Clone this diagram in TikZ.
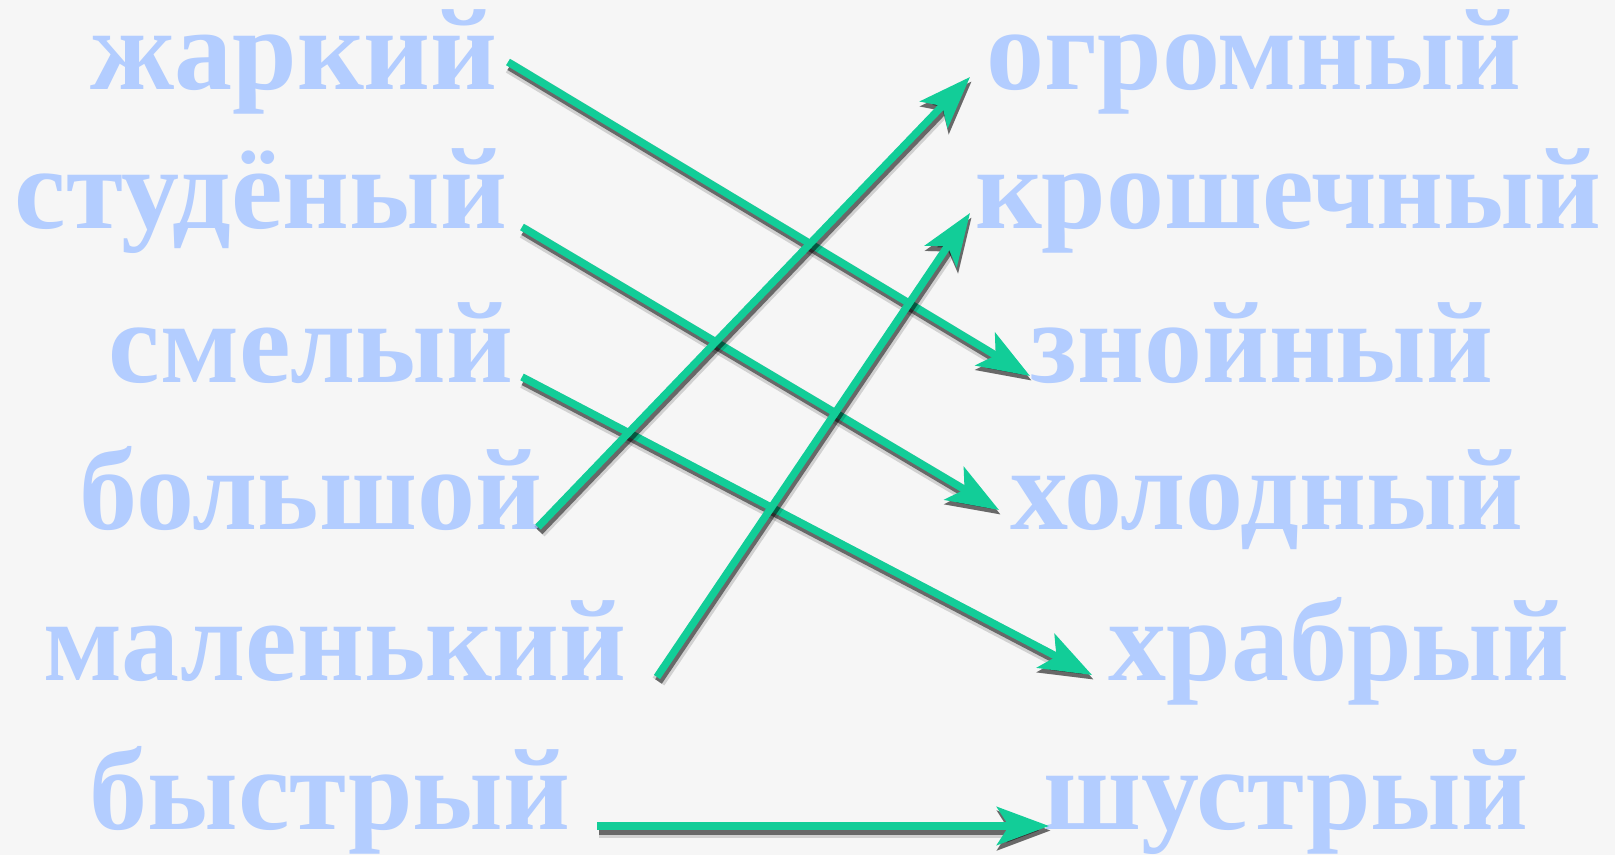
\documentclass[tikz,border=0pt]{standalone}
\usepackage{fontspec}
\setmainfont{Liberation Serif}
\usetikzlibrary{arrows.meta}
\definecolor{wordcol}{RGB}{179,205,255}
\definecolor{arrcol}{RGB}{18,205,152}
\definecolor{bgcol}{RGB}{246,246,246}

\begin{document}
\begin{tikzpicture}[x=0.01cm, y=-0.01cm,
  word/.style={anchor=base, inner sep=0pt, text=wordcol,
               font=\fontsize{33}{34}\selectfont\bfseries},
  link/.style={draw=arrcol, line width=0.075cm,
               -{Stealth[length=0.52cm, width=0.38cm, inset=0.12cm]}},
  linkshade/.style={draw=black,
               transform canvas={shift={(0.015cm,-0.045cm)}},
               -{Stealth[length=0.53cm, width=0.39cm, inset=0.12cm]}}
]
  % Background
  \fill[bgcol] (0,0) rectangle (1615,855);
  \useasboundingbox (0,0) rectangle (1615,855);

  % Left column
  \node[word] (zharkij)  at (294,90)  {жаркий};
  \node[word] (studenyj) at (261,229) {студёный};
  \node[word] (smelyj)   at (311,383) {смелый};
  \node[word] (bolshoj)  at (311,530) {большой};
  \node[word] (malenkij) at (335,680) {маленький};
  \node[word] (bystryj)  at (330,829) {быстрый};

  % Right column
  \node[word] (ogromnyj)    at (1254,90)  {огромный};
  \node[word] (kroshechnyj) at (1288,229) {крошечный};
  \node[word] (znojnyj)     at (1262,383) {знойный};
  \node[word] (holodnyj)    at (1267,530) {холодный};
  \node[word] (hrabryj)     at (1339,680) {храбрый};
  \node[word] (shustryj)    at (1286,829) {шустрый};

  % Synonym arrows (with soft shadow)
  \foreach \a/\ax/\ay/\b/\bx/\by in
    {zharkij/214/-28/znojnyj/-232/-7,
     studenyj/261/-2/holodnyj/-268/-20,
     smelyj/211/-6/hrabryj/-247/-5,
     bolshoj/227/-3/ogromnyj/-284/-13,
     malenkij/322/-3/kroshechnyj/-318/-16,
     bystryj/267/-3/shustryj/-237/-3} {
    \draw[linkshade, opacity=0.15, line width=0.14cm]
      ([shift={(\ax,\ay)}]\a.base) -- ([shift={(\bx,\by)}]\b.base);
    \draw[linkshade, opacity=0.5, line width=0.08cm]
      ([shift={(\ax,\ay)}]\a.base) -- ([shift={(\bx,\by)}]\b.base);
    \draw[link]
      ([shift={(\ax,\ay)}]\a.base) -- ([shift={(\bx,\by)}]\b.base);
  }
\end{tikzpicture}
\end{document}
